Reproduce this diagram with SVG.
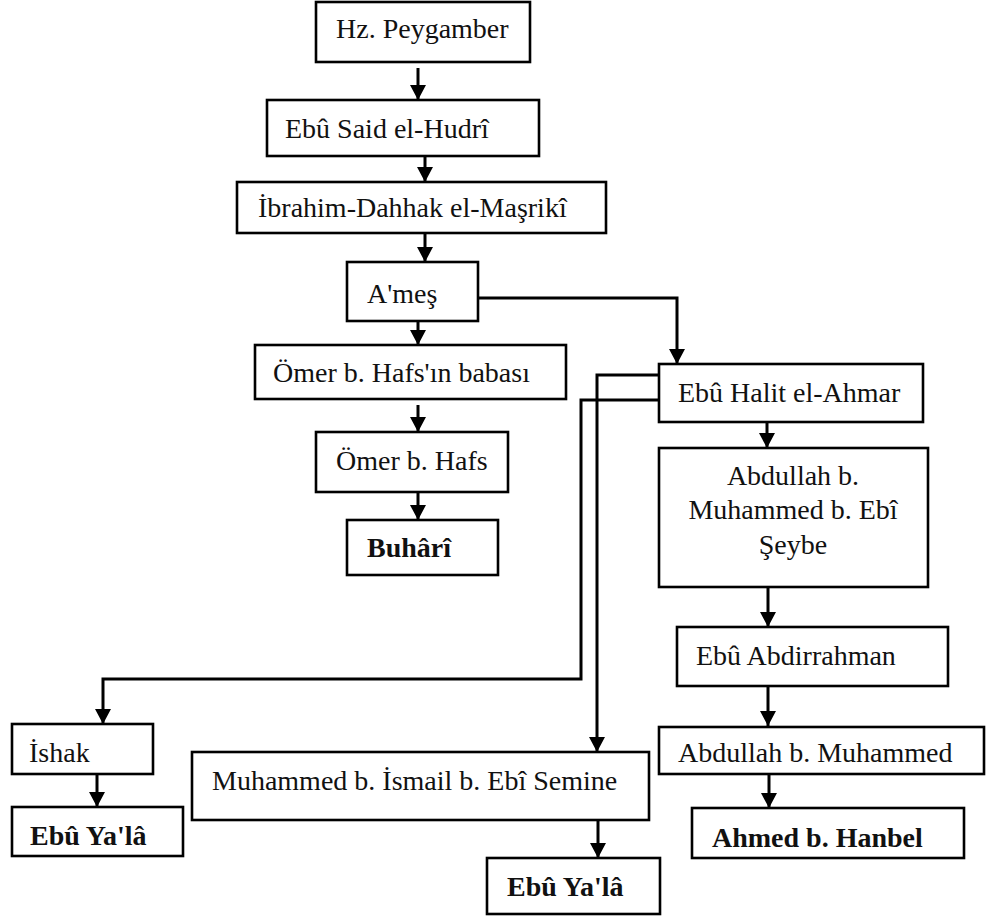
<svg xmlns="http://www.w3.org/2000/svg" width="990" height="917" viewBox="0 0 990 917">
<defs>
<marker id="ah" markerUnits="userSpaceOnUse" markerWidth="16" markerHeight="16" viewBox="0 0 16 16" refX="15" refY="8" orient="auto">
<path d="M0,0 L15,8 L0,16 Z" fill="#000"/>
</marker>
<style>
.box{fill:#fff;stroke:#000;stroke-width:2.6}
.t{font-family:"Liberation Serif","Times New Roman",serif;font-size:28px;fill:#111}
.b{font-weight:bold}
.c{text-anchor:middle}
.ln{fill:none;stroke:#000;stroke-width:3}
.ar{fill:none;stroke:#000;stroke-width:3;marker-end:url(#ah)}
</style>
</defs>
<rect width="990" height="917" fill="#fff"/>
<g id="connectors">
<path class="ar" d="M418,68 V100"/>
<path class="ar" d="M425,156 V182"/>
<path class="ar" d="M425,233 V262"/>
<path class="ar" d="M418,321 V345"/>
<path class="ar" d="M418,405 V432"/>
<path class="ar" d="M418,492 V520"/>
<path class="ar" d="M478,298 H677 V364"/>
<path class="ar" d="M767,422 V448"/>
<path class="ar" d="M768,587 V627"/>
<path class="ar" d="M768,686 V726"/>
<path class="ar" d="M769,774 V808"/>
<path class="ar" d="M659,375 H597 V752"/>
<path class="ar" d="M659,400 H581 V679 H103 V724"/>
<path class="ar" d="M97,774 V807"/>
<path class="ar" d="M598,820 V858"/>
</g>
<g id="n1"><rect class="box" x="316" y="2" width="214" height="60"/><text class="t" x="336" y="38">Hz. Peygamber</text></g>
<g id="n2"><rect class="box" x="267" y="100" width="272" height="56"/><text class="t" x="285" y="138">Ebû Said el-Hudrî</text></g>
<g id="n3"><rect class="box" x="237" y="182" width="369" height="51"/><text class="t" x="258" y="217">İbrahim-Dahhak el-Maşrikî</text></g>
<g id="n4"><rect class="box" x="347" y="262" width="131" height="59"/><text class="t" x="367" y="303">A'meş</text></g>
<g id="n5"><rect class="box" x="255" y="345" width="311" height="54"/><text class="t" x="273" y="382">Ömer b. Hafs'ın babası</text></g>
<g id="n6"><rect class="box" x="316" y="432" width="192" height="60"/><text class="t" x="336" y="470">Ömer b. Hafs</text></g>
<g id="n7"><rect class="box" x="347" y="520" width="151" height="55"/><text class="t b" x="367" y="557">Buhârî</text></g>
<g id="n8"><rect class="box" x="659" y="364" width="264" height="58"/><text class="t" x="678" y="402">Ebû Halit el-Ahmar</text></g>
<g id="n9"><rect class="box" x="659" y="448" width="269" height="139"/><text class="t c" x="793" y="485">Abdullah b.</text><text class="t c" x="793" y="519">Muhammed b. Ebî</text><text class="t c" x="793" y="554">Şeybe</text></g>
<g id="n10"><rect class="box" x="677" y="627" width="271" height="59"/><text class="t" x="696" y="665">Ebû Abdirrahman</text></g>
<g id="n11"><rect class="box" x="659" y="727" width="325" height="47"/><text class="t" x="678" y="762">Abdullah b. Muhammed</text></g>
<g id="n12"><rect class="box" x="692" y="808" width="272" height="50"/><text class="t b" x="712" y="847">Ahmed b. Hanbel</text></g>
<g id="n13"><rect class="box" x="12" y="724" width="141" height="50"/><text class="t" x="29" y="762">İshak</text></g>
<g id="n14"><rect class="box" x="12" y="807" width="171" height="49"/><text class="t b" x="30" y="845">Ebû Ya'lâ</text></g>
<g id="n15"><rect class="box" x="192" y="752" width="457" height="68"/><text class="t" x="212" y="790">Muhammed b. İsmail b. Ebî Semine</text></g>
<g id="n16"><rect class="box" x="487" y="858" width="173" height="56"/><text class="t b" x="507" y="896">Ebû Ya'lâ</text></g>
</svg>
